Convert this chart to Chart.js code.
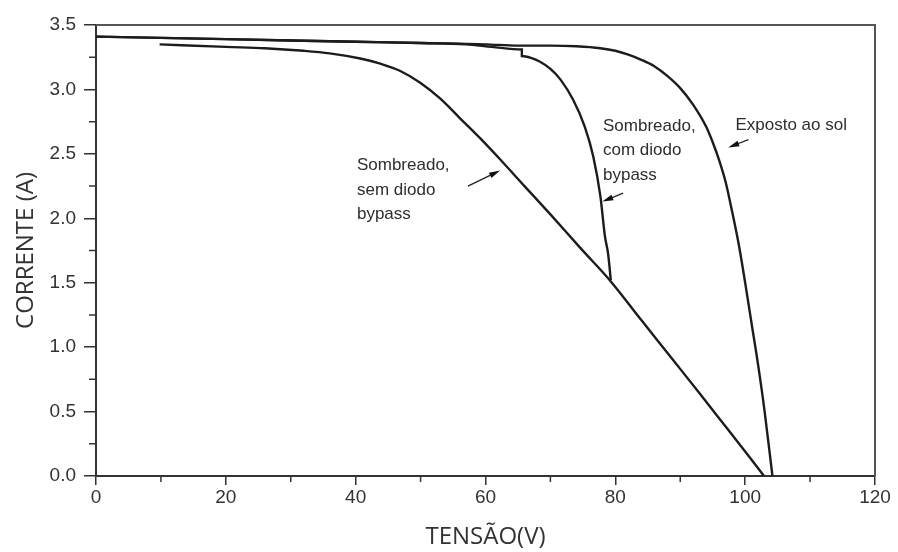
<!DOCTYPE html>
<html>
<head>
<meta charset="utf-8">
<script src="https://cdn.jsdelivr.net/npm/chart.js@4/dist/chart.umd.min.js"></script>
<style>
  html, body { margin: 0; padding: 0; background: #fff; }
  #wrap { width: 898px; height: 552px; }
</style>
</head>
<body>
<div id="wrap"><canvas id="cv" width="898" height="552"></canvas></div>
<script>
// curva I-V exposta ao sol
var exposedV = [0, 10, 20, 30, 40, 50, 60, 65, 70, 74, 77.7, 80, 82, 84, 86, 88, 90, 92, 94, 95, 96, 97, 98, 99, 100, 101, 102, 103, 104.2];
var exposedI = [3.41, 3.40, 3.39, 3.38, 3.37, 3.36, 3.35, 3.34, 3.34, 3.335, 3.32, 3.30, 3.27, 3.23, 3.18, 3.105, 3.01, 2.88, 2.71, 2.59, 2.45, 2.28, 2.05, 1.80, 1.50, 1.18, 0.86, 0.50, 0];

// sombreado, com diodo bypass
var bypassV = [0, 10, 20, 30, 40, 50, 57, 61, 65.6, 65.6, 67, 68.4, 70, 71.5, 73.5, 75.3, 76.6, 77.7, 78.4, 78.9, 79.3];
var bypassI = [3.41, 3.40, 3.39, 3.38, 3.37, 3.36, 3.35, 3.33, 3.31, 3.26, 3.245, 3.215, 3.16, 3.08, 2.92, 2.71, 2.48, 2.17, 1.86, 1.72, 1.52];

// sombreado, sem diodo bypass
var noBypassV = [9.8, 20, 26, 32, 36, 40.7, 43.8, 46.8, 50, 53, 56, 59.2, 62.2, 66, 70, 74.6, 79.3, 84, 88.9, 93, 97.2, 100, 102.9];
var noBypassI = [3.35, 3.33, 3.32, 3.30, 3.28, 3.24, 3.20, 3.145, 3.05, 2.93, 2.78, 2.62, 2.46, 2.25, 2.03, 1.77, 1.51, 1.21, 0.90, 0.64, 0.37, 0.19, 0];

var xTicks = [0, 20, 40, 60, 80, 100, 120];
var yTicks = [0, 0.5, 1.0, 1.5, 2.0, 2.5, 3.0, 3.5];

// anotacoes (em unidades do grafico)
var noteLines = [
    ['Sombreado,', 'sem diodo', 'bypass'],
    ['Sombreado,', 'com diodo', 'bypass'],
    ['Exposto ao sol']
];
var noteAt = [[40.2, 2.41], [78.1, 2.715], [98.5, 2.72]];
var arrowFrom = [[57.3, 2.25], [81.2, 2.195], [100.5, 2.61]];
var arrowTo = [[62.25, 2.37], [78.0, 2.13], [97.4, 2.55]];

function pts(vs, is) {
    var o = [];
    for (var i = 0; i < vs.length; i++) o.push({x: vs[i], y: is[i]});
    return o;
}

function line(data) {
    return {
        data: data,
        showLine: true,
        borderColor: '#1c1c1c',
        borderWidth: 2.4,
        pointRadius: 0,
        cubicInterpolationMode: 'monotone',
        fill: false
    };
}

var extras = {
    id: 'extras',
    afterDraw: function(chart) {
        var ctx = chart.ctx;
        var xs = chart.scales.x, ys = chart.scales.y;
        var a = chart.chartArea;
        var i, p;
        ctx.save();
        // moldura superior e direita
        ctx.strokeStyle = '#555';
        ctx.lineWidth = 2;
        ctx.beginPath();
        ctx.moveTo(a.left, a.top);
        ctx.lineTo(a.right, a.top);
        ctx.lineTo(a.right, a.bottom);
        ctx.stroke();
        // ticks menores
        ctx.strokeStyle = '#333';
        ctx.lineWidth = 1.5;
        ctx.beginPath();
        for (i = 10; i < 120; i += 20) {
            p = xs.getPixelForValue(i);
            ctx.moveTo(p, a.bottom);
            ctx.lineTo(p, a.bottom + 6);
        }
        for (i = 0.25; i < 3.5; i += 0.5) {
            p = ys.getPixelForValue(i);
            ctx.moveTo(a.left, p);
            ctx.lineTo(a.left - 7, p);
        }
        ctx.stroke();
        // textos e setas
        ctx.font = '17px "Liberation Sans", Arial, sans-serif';
        ctx.fillStyle = '#2e2e2e';
        ctx.textBaseline = 'middle';
        ctx.textAlign = 'left';
        for (i = 0; i < noteLines.length; i++) {
            var tx = xs.getPixelForValue(noteAt[i][0]);
            var ty = ys.getPixelForValue(noteAt[i][1]);
            for (var k = 0; k < noteLines[i].length; k++) {
                ctx.fillText(noteLines[i][k], tx, ty + k * 24.5);
            }
            var x1 = xs.getPixelForValue(arrowFrom[i][0]), y1 = ys.getPixelForValue(arrowFrom[i][1]);
            var x2 = xs.getPixelForValue(arrowTo[i][0]), y2 = ys.getPixelForValue(arrowTo[i][1]);
            var ang = Math.atan2(y2 - y1, x2 - x1);
            ctx.strokeStyle = '#222';
            ctx.lineWidth = 1.3;
            ctx.beginPath();
            ctx.moveTo(x1, y1);
            ctx.lineTo(x2 - 6 * Math.cos(ang), y2 - 6 * Math.sin(ang));
            ctx.stroke();
            ctx.fillStyle = '#111';
            ctx.beginPath();
            ctx.moveTo(x2, y2);
            ctx.lineTo(x2 - 11 * Math.cos(ang) + 3 * Math.sin(ang), y2 - 11 * Math.sin(ang) - 3 * Math.cos(ang));
            ctx.lineTo(x2 - 11 * Math.cos(ang) - 3 * Math.sin(ang), y2 - 11 * Math.sin(ang) + 3 * Math.cos(ang));
            ctx.closePath();
            ctx.fill();
            ctx.fillStyle = '#2e2e2e';
        }
        ctx.restore();
    }
};

var tickFont = {family: '"Liberation Sans", Arial, sans-serif', size: 19};
var titleFont = {family: '"Open Sans", "Liberation Sans", sans-serif', size: 24, lineHeight: 1.2};

new Chart(document.getElementById('cv'), {
    type: 'scatter',
    data: {
        datasets: [
            line(pts(exposedV, exposedI)),
            line(pts(bypassV, bypassI)),
            line(pts(noBypassV, noBypassI))
        ]
    },
    options: {
        responsive: false,
        animation: false,
        layout: {padding: {left: 0, top: 25, right: 23, bottom: 0}},
        plugins: {legend: {display: false}, tooltip: {enabled: false}},
        scales: {
            x: {
                type: 'linear',
                min: 0,
                max: 120,
                afterFit: function(s) { s.height = 76; },
                afterBuildTicks: function(s) { s.ticks = xTicks.map(function(v) { return {value: v}; }); },
                ticks: {color: '#333', font: tickFont, padding: 1, maxRotation: 0,
                    callback: function(v) { return String(v); }},
                grid: {display: true, drawOnChartArea: false, drawTicks: true, tickLength: 9, color: '#333', lineWidth: 1.5},
                border: {display: true, color: '#333', width: 2},
                title: {display: true, text: 'TENSÃO(V)', color: '#333', font: titleFont, padding: {top: 0, bottom: 0}}
            },
            y: {
                type: 'linear',
                min: 0,
                max: 3.5,
                afterFit: function(s) { s.width = 96; },
                afterBuildTicks: function(s) { s.ticks = yTicks.map(function(v) { return {value: v}; }); },
                ticks: {color: '#333', font: tickFont, padding: 8,
                    callback: function(v) { return v.toFixed(1); }},
                grid: {display: true, drawOnChartArea: false, drawTicks: true, tickLength: 12, color: '#333', lineWidth: 1.5},
                border: {display: true, color: '#333', width: 2},
                title: {display: true, text: 'CORRENTE (A)', color: '#333', font: titleFont, padding: {top: 12, bottom: 0}}
            }
        }
    },
    plugins: [extras]
});
</script>
</body>
</html>
